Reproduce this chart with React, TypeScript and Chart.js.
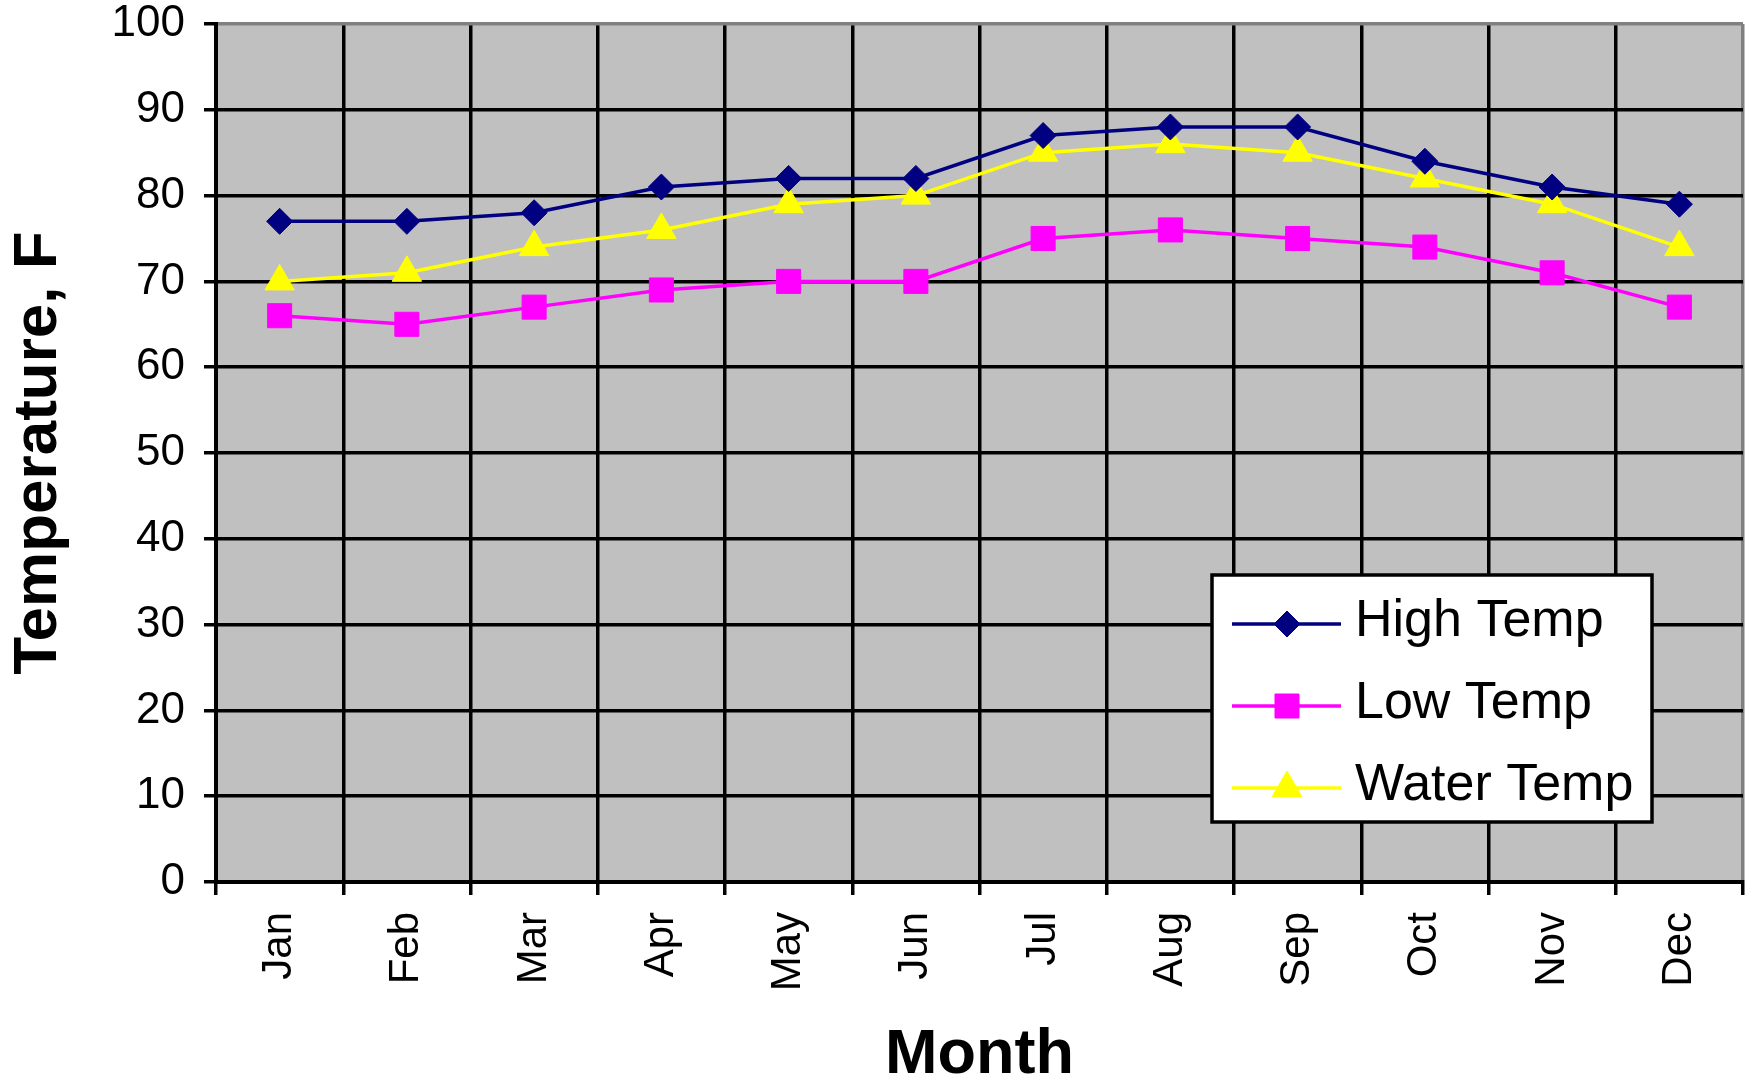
import React, { useEffect, useRef } from 'react';
import { Chart, registerables } from 'chart.js';

Chart.register(...registerables);

const months = ['Jan', 'Feb', 'Mar', 'Apr', 'May', 'Jun', 'Jul', 'Aug', 'Sep', 'Oct', 'Nov', 'Dec'];
const highTemp = [77, 77, 78, 81, 82, 82, 87, 88, 88, 84, 81, 79];
const lowTemp = [66, 65, 67, 69, 70, 70, 75, 76, 75, 74, 71, 67];
const waterTemp = [70, 71, 74, 76, 79, 80, 85, 86, 85, 82, 79, 74];
const seriesNames = ['High Temp', 'Low Temp', 'Water Temp'];
const seriesColors = ['#000080', '#FF00FF', '#FFFF00'];
const seriesMarkers = ['rectRot', 'rect', 'triangle'];
const yMin = 0;
const yMax = 100;
const yStep = 10;

const FONT = '"Liberation Sans", Arial, Helvetica, sans-serif';

function drawMarker(ctx: CanvasRenderingContext2D, style: string, x: number, y: number, color: string) {
  ctx.save();
  ctx.fillStyle = color;
  ctx.strokeStyle = color;
  ctx.lineWidth = 1;
  ctx.beginPath();
  if (style === 'rectRot') {
    const r = 13;
    ctx.moveTo(x, y - r);
    ctx.lineTo(x + r, y);
    ctx.lineTo(x, y + r);
    ctx.lineTo(x - r, y);
    ctx.closePath();
  } else if (style === 'rect') {
    const s = 12;
    ctx.rect(x - s, y - s, 2 * s, 2 * s);
  } else {
    const r = 17;
    ctx.moveTo(x, y - r);
    ctx.lineTo(x + r * Math.sin((2 * Math.PI) / 3), y + r / 2);
    ctx.lineTo(x - r * Math.sin((2 * Math.PI) / 3), y + r / 2);
    ctx.closePath();
  }
  ctx.fill();
  ctx.stroke();
  ctx.restore();
}

const plotBackground = {
  id: 'plotBackground',
  beforeDraw(chart: any) {
    const { ctx, chartArea, width, height } = chart;
    ctx.save();
    ctx.fillStyle = '#FFFFFF';
    ctx.fillRect(0, 0, width, height);
    ctx.fillStyle = '#C0C0C0';
    ctx.fillRect(chartArea.left, chartArea.top, chartArea.right - chartArea.left, chartArea.bottom - chartArea.top);
    ctx.restore();
  },
};

const boxLegend = {
  id: 'boxLegend',
  afterDraw(chart: any) {
    const ctx: CanvasRenderingContext2D = chart.ctx;
    const x0 = 1212;
    const y0 = 575;
    const w = 440;
    const h = 247;
    ctx.save();
    ctx.fillStyle = '#FFFFFF';
    ctx.fillRect(x0, y0, w, h);
    ctx.strokeStyle = '#000000';
    ctx.lineWidth = 3.5;
    ctx.strokeRect(x0, y0, w, h);
    const rows = [624, 706, 788];
    chart.data.datasets.forEach((ds: any, i: number) => {
      const y = rows[i];
      ctx.strokeStyle = ds.borderColor;
      ctx.lineWidth = 3.5;
      ctx.beginPath();
      ctx.moveTo(1232, y);
      ctx.lineTo(1341, y);
      ctx.stroke();
      drawMarker(ctx, seriesMarkers[i], 1287, y, ds.borderColor);
      ctx.fillStyle = '#000000';
      ctx.font = `52px ${FONT}`;
      ctx.textAlign = 'left';
      ctx.textBaseline = 'middle';
      ctx.fillText(ds.label, 1355, y - 2);
    });
    ctx.restore();
  },
};

export default function App() {
  const canvasRef = useRef<HTMLCanvasElement | null>(null);

  useEffect(() => {
    document.body.style.margin = '0';
    const canvas = canvasRef.current;
    if (!canvas) return;
    const seriesValues = [highTemp, lowTemp, waterTemp];
    const chart = new Chart(canvas, {
      type: 'line',
      data: {
        labels: months,
        datasets: seriesValues.map((vals, i) => ({
          label: seriesNames[i],
          data: vals,
          borderColor: seriesColors[i],
          backgroundColor: seriesColors[i],
          borderWidth: 3.5,
          pointStyle: seriesMarkers[i] as any,
          pointRadius: i === 0 ? 13 : 17,
          pointHoverRadius: i === 0 ? 13 : 17,
          pointBorderWidth: 1,
          pointBackgroundColor: seriesColors[i],
          pointBorderColor: seriesColors[i],
          tension: 0,
          fill: false,
        })),
      },
      options: {
        animation: false,
        responsive: true,
        maintainAspectRatio: false,
        events: [],
        layout: { padding: { top: 24, right: 9, left: 0, bottom: 0 } },
        plugins: {
          legend: { display: false },
          tooltip: { enabled: false },
        },
        scales: {
          x: {
            type: 'category',
            offset: true,
            grid: {
              offset: true,
              color: (c: any) => (c.type === 'tick' ? '#000000' : '#808080'),
              tickColor: '#000000',
              lineWidth: 3.5,
              tickLength: 13,
              drawTicks: true,
            },
            border: { display: true, color: '#000000', width: 4 },
            ticks: {
              color: '#000000',
              font: { family: FONT, size: 42 },
              minRotation: 90,
              maxRotation: 90,
              autoSkip: false,
              padding: 17,
            },
            title: {
              display: true,
              text: 'Month',
              color: '#000000',
              font: { family: FONT, size: 63, weight: 'bold', lineHeight: 0.8 },
              padding: { top: 0, bottom: 0 },
            },
            afterFit: (scale: any) => {
              scale.height = 199;
              scale.paddingLeft = 0;
              scale.paddingRight = 0;
            },
          },
          y: {
            min: yMin,
            max: yMax,
            grid: {
              color: (c: any) => (c.tick && c.tick.value === yMax ? '#808080' : '#000000'),
              tickColor: '#000000',
              lineWidth: 3.5,
              tickLength: 12,
            },
            border: { display: true, color: '#000000', width: 4 },
            ticks: {
              stepSize: yStep,
              color: '#000000',
              font: { family: FONT, size: 44 },
              padding: 19,
            },
            title: {
              display: true,
              text: 'Temperature, F',
              color: '#000000',
              font: { family: FONT, size: 62, weight: 'bold' },
              padding: { top: 2, bottom: 0 },
            },
            afterFit: (scale: any) => {
              scale.width = 216;
              scale.paddingTop = 0;
              scale.paddingBottom = 0;
            },
          },
        },
      },
      plugins: [plotBackground, boxLegend],
    });
    return () => chart.destroy();
  }, []);

  return (
    <div style={{ position: 'fixed', left: 0, top: 0, width: '1761px', height: '1081px', background: '#FFFFFF' }}>
      <canvas ref={canvasRef} />
    </div>
  );
}
